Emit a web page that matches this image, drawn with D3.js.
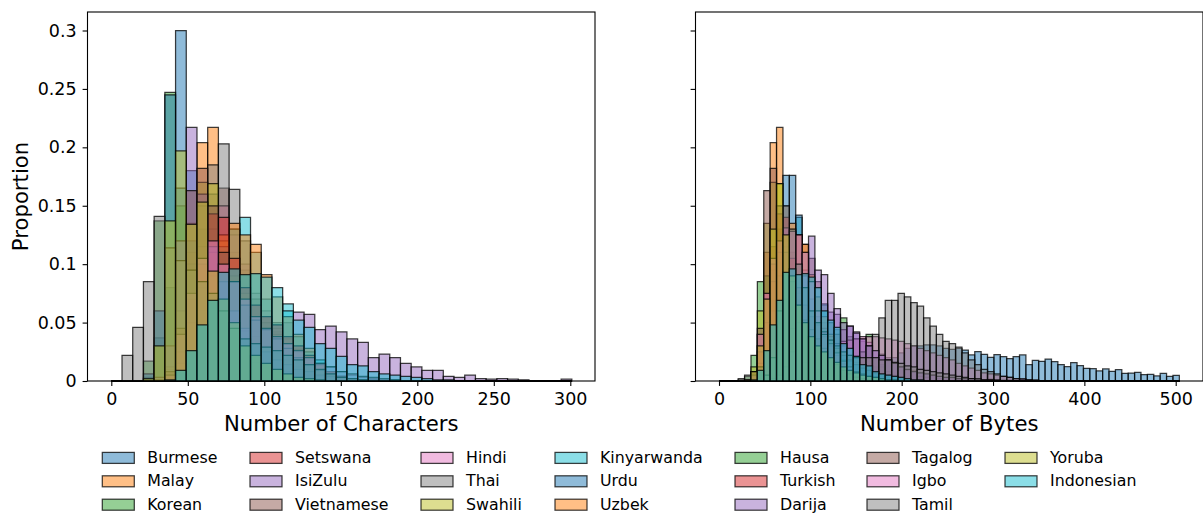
<!DOCTYPE html>
<html>
<head>
<meta charset="utf-8">
<script src="https://cdn.jsdelivr.net/npm/d3@7"></script>
<style>
  html, body { margin: 0; padding: 0; background: #fff; }
  text { font-family: "DejaVu Sans", sans-serif; fill: #000; }
</style>
</head>
<body>
<div id="chart"></div>
<script>
// proportions per bin, in thousandths. bins are 7 wide starting at 0
const burmeseChars = [0,0,0,3,37,80,300,180,120,75,50,35,25,18,12,9,6,5,4,3,2,1,1];
const malayCounts = [0,0,0,0,0,6,40,110,204,217,150,110,90,40,25,15,10,8,5,4,3,2,1,1];
const koreanChars = [0,0,0,17,137,247,150,100,70,50,35,25,18,12,9,6,4,3,2,1];
const setswanaCounts = [0,0,0,0,1,8,30,75,115,130,110,90,70,55,45,35,24,14,9,5,3,2,1,1];
const isiZuluCounts = [0,0,0,0,0,1,4,10,18,25,30,35,38,42,45,48,50,59,57,44,47,42,36,33,20,23,20,15,12,9,9,4,3,5,2,1.5,2,1.5,1,.3,.3,.3,1.5];
const vietnameseChars = [0,0,0,0,1,8,35,90,130,160,165,130,95,70,55,42,32,24,16,9,5,3,1,1];
const hindiChars = [0,0,0,0,0,3,20,60,115,130,150,125,100,75,60,45,36,27,20,13,8,4,2,1];
const thaiChars = [0,0,0,1,3,10,40,100,150,185,203,164,120,70,50,40,32,25,18,12,7,4,2,1];
const swahiliCounts = [0,0,0,0,1,12,60,135,170,169,120,90,75,38,30,24,18,12,8,4,2,1];
const kinyarwandaCounts = [0,0,0,0,0,2,8,25,60,90,115,130,140,110,70,50,66,38,25,18,12,8,5,3,2,1,1];
const urduChars = [0,0,0,6,60,245,165,120,80,55,45,35,25,15,10,8,6,4,3,2,1,1];
const uzbekCounts = [0,0,0,0,0,3,15,50,85,110,125,135,125,117,91,72,55,40,28,15,8,4,2,1];
const hausaCounts = [0,0,0,0,0,2,9,26,48,69,70,45,43,16,12,10,8,6,5,4,3,2,1,1];
const turkishCounts = [0,0,0,0,0,4,25,70,100,143,140,105,80,65,55,48,38,30,22,14,8,4,2,1];
const darijaChars = [0,0,0,0,3,30,120,217,160,115,85,60,45,32,25,18,14,10,8,5,4,3,2,1,1];
const tagalogCounts = [0,0,0,0,1,8,45,163,182,150,110,85,65,52,44,36,28,20,14,9,6,3,2,1];
const igboChars = [0,0,0,0,0,5,40,75,105,120,100,85,70,55,45,38,32,26,20,15,12,8,6,4,3,2,1];
const tamilChars = [0,22,46,85,141,114,103,95,85,75,60,45,36,32,29,26,22,18,14,10,6,3,2,1];
const yorubaChars = [0,0,0,2,30,137,197,134,153,94,70,50,30,22,15,10,6,3,2,1];
const indonesianCounts = [0,0,0,0,0,1,9,26,48,69,93,96,91,92,89,80,60,52,46,32,28,21,14,13,8,6,5,4,3,2,1,1];

const burmeseBytes = [0,0,0,0,0,0,0,0,1,1,2,2,3,3,3,4,4,4,5,5,5,7,9,10,12,14,17,20,24,28,30,30,31,31,30,28,27,28,26.5,22.3,25.1,22.8,20.3,22.5,20.8,19.1,20.8,22.3,14,17.7,16.9,18.8,16.5,14,12.2,15.7,13.1,10.9,10.5,8.6,10.3,8.3,9.7,6.6,6.8,7.4,5.4,5.7,4.3,6.6,4,4.9];
const koreanBytes = [0,0,0,1,4,22,85,90,95,85,75,60,50,42,38,36,40,40,44,54,38,36,34,40,20,12,8,5,3,2,1];
const vietnameseBytes = [0,0,0,0,0,0,0,10,30,60,90,110,125,117,105,85,65,50,40,30,22,16,12,8,6,4,3,2,1];
const hindiBytes = [0,0,0,0,0,0,0,0,1,3,5,8,12,15,20,24,27,30,32,34,35,36,38,38,38,37,36,35,34,32,30,28,26,24,22,20,18,15,13,11,9,7,6,5,4,3,2,2,1,1];
const thaiBytes = [0,0,0,0,0,0,0,0,0,0,0,0,0,1,1,2,3,5,8,12,17,21,25,30,40,54,69,69,75,72,67,64,54,47,40,34,32,29,24,18,14,10,8,6,4,3,2,1,1];
const urduBytes = [0,0,0,0,0,0,2,8,25,70,176,176,142,95,70,55,45,35,28,22,18,14,11,9,7,6,5,4,3,2,1,1];
const darijaBytes = [0,0,0,0,0,0,0,0,2,5,12,25,50,90,124,95,91,75,62,50,47,41,36,30,26,22,18,15,12,10,8,7,6,5,4,3,3,2,2,2,1,1,1,1,.5,.5];
const igboBytes = [0,0,0,0,0,5,40,75,105,120,131,128,125,110,85,60,42,32,24,17,12,8,6,4,3,2,1];
const tamilBytes = [0,0,0,2,5,8,12,5,20,60,150,130,100,80,60,50,40,35,30,25,22,20,20,20,20,18,18,16,15,13,12,10,9,8,7,6,5,4,3,2,2,1,1];
const yorubaBytes = [0,0,0,0,1,8,30,70,130,169,125,90,65,50,38,30,25,20,16,12,9,7,5,4,3,2,1,1];

const languages = ["Burmese","Malay","Korean","Setswana","IsiZulu","Vietnamese","Hindi","Thai","Swahili","Kinyarwanda","Urdu","Uzbek","Hausa","Turkish","Darija","Tagalog","Igbo","Tamil","Yoruba","Indonesian"];
const charSeries = [burmeseChars,malayCounts,koreanChars,setswanaCounts,isiZuluCounts,vietnameseChars,hindiChars,thaiChars,swahiliCounts,kinyarwandaCounts,urduChars,uzbekCounts,hausaCounts,turkishCounts,darijaChars,tagalogCounts,igboChars,tamilChars,yorubaChars,indonesianCounts];
const byteSeries = [burmeseBytes,malayCounts,koreanBytes,setswanaCounts,isiZuluCounts,vietnameseBytes,hindiBytes,thaiBytes,swahiliCounts,kinyarwandaCounts,urduBytes,uzbekCounts,hausaCounts,turkishCounts,darijaBytes,tagalogCounts,igboBytes,tamilBytes,yorubaBytes,indonesianCounts];

const yTicks = [0, 0.05, 0.1, 0.15, 0.2, 0.25, 0.3];
const charTicks = [0, 50, 100, 150, 200, 250, 300];
const byteTicks = [0, 100, 200, 300, 400, 500];

const binWidth = 7;
const width = 1203, height = 516;
const plotTop = 12, plotBottom = 381;
const edgeOpacity = 0.75, edgeWidth = 1.25;
const color = d3.scaleOrdinal().domain(languages).range(d3.schemeCategory10.concat(d3.schemeCategory10));

const svg = d3.select("#chart").append("svg")
  .attr("width", width)
  .attr("height", height)
  .style("display", "block");

const y = d3.scaleLinear().domain([0, 0.3]).range([plotBottom, 30.5]);

function drawPanel(left, right, xDomain, xRange, nBins, series, xTicks, xLabel, showY) {
  const x = d3.scaleLinear().domain(xDomain).range(xRange);
  const g = svg.append("g");

  series.forEach((values, s) => {
    g.append("g")
      .attr("fill", color(languages[s]))
      .attr("fill-opacity", 0.5)
      .attr("stroke", "#000")
      .attr("stroke-opacity", edgeOpacity)
      .attr("stroke-width", edgeWidth)
      .selectAll("path")
      .data(d3.range(nBins))
      .join("path")
      .attr("d", i => {
        const v = (values[i] || 0) / 1000;
        return `M${x(i * binWidth)},${y(0)}V${y(v)}H${x((i + 1) * binWidth)}V${y(0)}Z`;
      });
  });

  const xAxis = d3.axisBottom(x).tickValues(xTicks).tickSize(4.9).tickPadding(6.7).tickFormat(d => d);
  const yAxis = d3.axisLeft(y).tickValues(yTicks).tickSize(4.9).tickPadding(6).tickFormat(d => showY ? d : "");

  const gx = g.append("g").attr("transform", `translate(0,${plotBottom})`).call(xAxis);
  const gy = g.append("g").attr("transform", `translate(${left},0)`).call(yAxis);
  [gx, gy].forEach(a => {
    a.select(".domain").remove();
    a.selectAll(".tick line").attr("stroke-width", 1.1);
    a.selectAll(".tick text").style("font-size", "17.5px");
  });

  g.append("rect")
    .attr("x", left).attr("y", plotTop)
    .attr("width", right - left).attr("height", plotBottom - plotTop)
    .attr("fill", "none")
    .attr("stroke", "#000")
    .attr("stroke-width", 1.1);

  g.append("text")
    .attr("x", (left + right) / 2)
    .attr("y", 430.5)
    .attr("text-anchor", "middle")
    .style("font-size", "21.2px")
    .text(xLabel);
}

drawPanel(87.5, 595, [0, 300], [111.3, 570.3], 43, charSeries, charTicks, "Number of Characters", true);
drawPanel(695.5, 1203, [0, 500], [719, 1175.7], 72, byteSeries, byteTicks, "Number of Bytes", false);

svg.append("text")
  .attr("transform", `translate(28,${(plotTop + plotBottom) / 2}) rotate(-90)`)
  .attr("text-anchor", "middle")
  .style("font-size", "21.2px")
  .text("Proportion");

// legend runs down the columns, 3 rows each
const legendColumns = [102.3, 250, 421, 555, 735, 867, 1005];
const legend = svg.append("g").selectAll("g")
  .data(languages)
  .join("g")
  .attr("transform", (d, i) => `translate(${legendColumns[Math.floor(i / 3)]},${452.4 + (i % 3) * 23.4})`);

legend.append("rect")
  .attr("width", 32)
  .attr("height", 11)
  .attr("fill", d => color(d))
  .attr("fill-opacity", 0.5)
  .attr("stroke", "#000")
  .attr("stroke-opacity", edgeOpacity)
  .attr("stroke-width", edgeWidth);

legend.append("text")
  .attr("x", 45)
  .attr("y", 10.4)
  .style("font-size", "15.8px")
  .text(d => d);
</script>
</body>
</html>
